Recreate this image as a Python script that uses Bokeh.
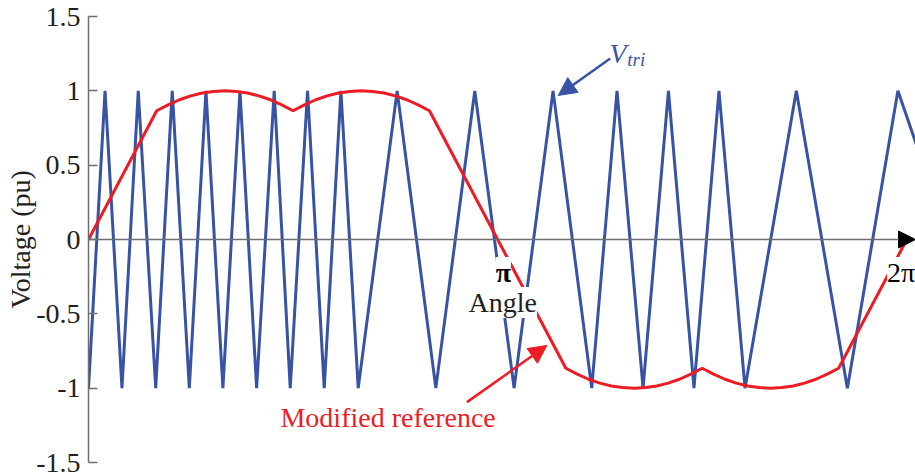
import math

from bokeh.plotting import figure
from bokeh.models import (Label, Arrow, NormalHead, FixedTicker,
                          CustomJSTickFormatter, Range1d)
from bokeh.embed import file_html
from bokeh.resources import INLINE

# Variable-frequency triangular carrier: vertex angles (rad) and levels (pu)
tri_angle = [0.000, 0.127, 0.257, 0.382, 0.516, 0.643, 0.774, 0.902,
             1.032, 1.163, 1.291, 1.426, 1.549, 1.682, 1.810, 1.938,
             2.071, 2.370, 2.667, 2.966, 3.268, 3.567, 3.864, 4.058,
             4.258, 4.453, 4.649, 4.841, 5.041, 5.435, 5.827, 6.215,
             7.000]
tri_value = [-1, 1, -1, 1, -1, 1, -1, 1,
             -1, 1, -1, 1, -1, 1, -1, 1,
             -1, 1, -1, 1, -1, 1, -1, 1,
             -1, 1, -1, 1, -1, 1, -1, 1,
             -1]

# Modified reference waveform: angle (deg) and value (pu)
ref_deg = [0, 30, 35, 40, 45, 50, 55, 60, 65, 70, 75, 80, 85, 90,
           95, 100, 105, 110, 115, 120, 125, 130, 135, 140, 145, 150,
           180, 210, 215, 220, 225, 230, 235, 240, 245, 250, 255, 260,
           265, 270, 275, 280, 285, 290, 295, 300, 305, 310, 315, 320,
           325, 330, 360]
ref_value = [0.0, 0.866, 0.906, 0.940, 0.966, 0.985, 0.996, 1.0, 0.996,
             0.985, 0.966, 0.940, 0.906, 0.866, 0.906, 0.940, 0.966,
             0.985, 0.996, 1.0, 0.996, 0.985, 0.966, 0.940, 0.906, 0.866,
             0.0, -0.866, -0.906, -0.940, -0.966, -0.985, -0.996, -1.0,
             -0.996, -0.985, -0.966, -0.940, -0.906, -0.866, -0.906,
             -0.940, -0.966, -0.985, -0.996, -1.0, -0.996, -0.985, -0.966,
             -0.940, -0.906, -0.866, 0.0]

y_ticks = [-1.5, -1, -0.5, 0, 0.5, 1, 1.5]

ref_angle = [d * math.pi / 180.0 for d in ref_deg]

BLUE = "#3953a4"
RED = "#ed1c24"
GREY = "#6d6e71"
INK = "#231f20"
FONT = "Liberation Serif"

p = figure(width=915, height=475,
           x_range=Range1d(0, 6.35), y_range=Range1d(-1.5, 1.5),
           x_axis_type=None,
           output_backend="svg", toolbar_location=None,
           min_border_left=88, min_border_right=0,
           min_border_top=16, min_border_bottom=13)
p.outline_line_color = None
p.ygrid.grid_line_color = None
p.background_fill_color = "white"
p.border_fill_color = "white"

ax = p.yaxis[0]
ax.ticker = FixedTicker(ticks=y_ticks)
ax.formatter = CustomJSTickFormatter(code="return tick.toString();")
ax.major_tick_in = 9
ax.major_tick_out = 0
ax.minor_tick_line_color = None
ax.axis_line_color = GREY
ax.axis_line_width = 1.5
ax.major_tick_line_color = GREY
ax.major_tick_line_width = 1.5
ax.major_label_text_font = FONT
ax.major_label_text_font_size = "28px"
ax.major_label_text_color = INK
ax.major_label_standoff = 8
ax.axis_label = "Voltage (pu)"
ax.axis_label_text_font = FONT
ax.axis_label_text_font_size = "28px"
ax.axis_label_text_font_style = "normal"
ax.axis_label_text_color = INK
ax.axis_label_standoff = -3

# carrier and reference
p.line(tri_angle, tri_value, line_color=BLUE, line_width=3)
p.line(ref_angle, ref_value, line_color=RED, line_width=3)

# horizontal angle axis with arrow head
p.add_layout(Arrow(x_start=0, y_start=0, x_end=6.35, y_end=0,
                   line_color=GREY, line_width=1.5,
                   end=NormalHead(size=17, fill_color="black",
                                  line_color="black")))

# callout arrows
p.add_layout(Arrow(x_start=4.006, y_start=1.217, x_end=3.607, y_end=0.969,
                   line_color=BLUE, line_width=2.5,
                   end=NormalHead(size=18, fill_color=BLUE, line_color=BLUE)))
p.add_layout(Arrow(x_start=2.906, y_start=-1.094, x_end=3.520, y_end=-0.713,
                   line_color=RED, line_width=2.5,
                   end=NormalHead(size=18, fill_color=RED, line_color=RED)))


def add_label(x, y, text, size, color, align="left", style="normal",
              bg=None):
    p.add_layout(Label(x=x, y=y, text=text, text_font=FONT,
                       text_font_size=size, text_color=color,
                       text_font_style=style, text_align=align,
                       text_baseline="alphabetic",
                       background_fill_color=bg))


add_label(4.0, 1.251, "V", "28px", BLUE, style="italic")
add_label(4.137, 1.211, "tri", "19px", BLUE, style="italic")
add_label(1.474, -1.197, "Modified reference", "28px", RED)
add_label(3.185, -0.222, "π", "28px", "black", align="center",
          style="bold", bg="white")
add_label(3.181, -0.424, "Angle", "28px", INK, align="center", bg="white")
add_label(6.132, -0.222, "2π", "28px", "black", bg="white")

open("out.html", "w").write(file_html(p, INLINE))
